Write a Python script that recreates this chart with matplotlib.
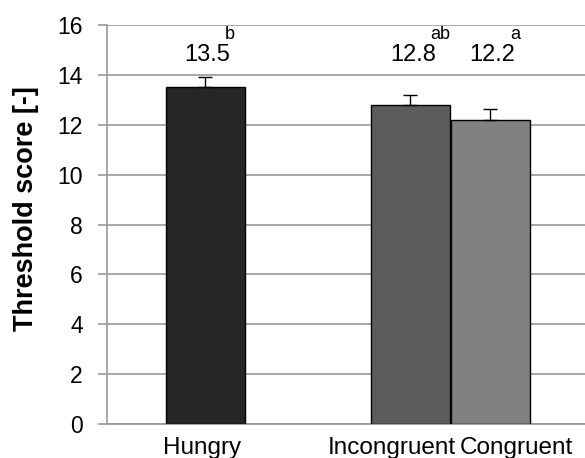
import matplotlib.pyplot as plt

plt.rcParams['font.family'] = ['Liberation Sans', 'DejaVu Sans']

categories = ["Hungry", "Incongruent", "Congruent"]
means = [13.5, 12.8, 12.2]
errors = [0.4, 0.4, 0.45]
letters = ["b", "ab", "a"]
colors = ["#262626", "#5c5c5c", "#818181"]
positions = [1.24, 3.84, 4.85]
label_positions = [1.20, 3.61, 5.18]

fig = plt.figure(figsize=(5.85, 4.58), dpi=100)
ax = fig.add_axes([0.183, 0.0742, 0.817, 0.8712])

ax.bar(positions, means, width=1.0, color=colors, edgecolor="black", linewidth=1.0, zorder=3)
ax.errorbar(positions, means, yerr=[[0, 0, 0], errors], fmt="none", ecolor="black",
            elinewidth=1.0, capsize=5, capthick=1.0, zorder=4)

for x, m, lab in zip(positions, means, letters):
    ax.text(x + 0.03, 14.8, f"{m}", ha="center", va="center", fontsize=17)
    ax.text(x + 0.25, 15.44, lab, ha="left", va="baseline", fontsize=13)

ax.set_xlim(0, 6.05)
ax.set_ylim(0, 16)
ax.set_yticks(range(0, 17, 2))
ax.set_xticks(label_positions)
ax.set_xticklabels(categories, fontsize=17.5)
ax.tick_params(axis="x", length=0, pad=9)
ax.tick_params(axis="y", labelsize=16.5, length=6.5, color="#999999", width=1.2, pad=11)
ax.yaxis.grid(True, color="#a0a0a0", linewidth=1.3, zorder=0)
ax.set_axisbelow(True)

for s in ["top", "right"]:
    ax.spines[s].set_visible(False)
ax.spines["left"].set_color("#999999")
ax.spines["bottom"].set_color("#999999")
ax.spines["left"].set_linewidth(1.2)
ax.spines["bottom"].set_linewidth(1.3)

ax.set_ylabel("Threshold score [-]", fontsize=19.5, fontweight="bold")
ax.yaxis.set_label_coords(-0.143, 0.541)

fig.savefig("out.png", dpi=100)
